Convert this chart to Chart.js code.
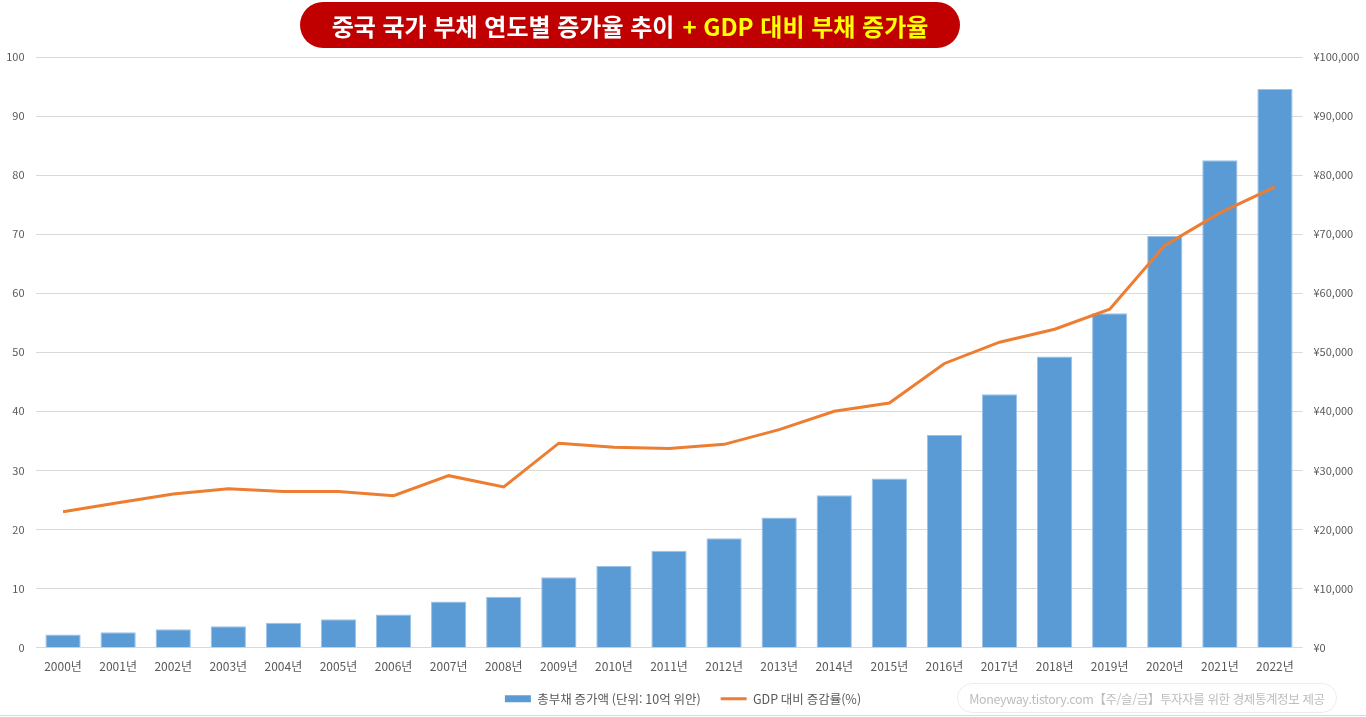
<!DOCTYPE html>
<html lang="ko">
<head>
<meta charset="utf-8">
<title>중국 국가 부채 연도별 증가율 추이</title>
<script src="https://cdn.jsdelivr.net/npm/chart.js@4.4.1/dist/chart.umd.min.js"></script>
<style>
  html, body { margin: 0; padding: 0; background: #fff; }
  #wrap { position: relative; width: 1366px; height: 717px; overflow: hidden; }
  #chart { position: absolute; left: 0; top: 0; }
  #title {
    position: absolute; left: 300px; top: 2px; width: 660px; height: 46px;
    background: #c00000; border-radius: 23px; color: #fff;
    font: bold 24px "Noto Sans CJK KR", sans-serif; letter-spacing: 0px;
    display: flex; align-items: center; justify-content: center;
  }
  #title span { color: #ffff00; margin-left: 8px; }
  #mark {
    position: absolute; left: 957px; top: 683px; width: 380px; height: 30px;
    border: 1px solid #ececec; border-radius: 15px; box-sizing: border-box;
    color: #bdbdbd; font: 12.5px "Noto Sans CJK KR", sans-serif;
    display: flex; align-items: center; justify-content: center; letter-spacing: -0.4px;
  }
  #rule { position: absolute; left: 0; right: 0; top: 715px; height: 1px; background: #d9d9d9; }
</style>
</head>
<body>
<div id="wrap">
  <canvas id="chart" width="1366" height="717"></canvas>
  <div id="title">중국 국가 부채 연도별 증가율 추이<span>+ GDP 대비 부채 증가율</span></div>
  <div id="mark">Moneyway.tistory.com【주/슬/금】투자자를 위한 경제통계정보 제공</div>
  <div id="rule"></div>
</div>
<script>
// --- dados ---
const anos = ['2000년', '2001년', '2002년', '2003년', '2004년', '2005년', '2006년', '2007년',
  '2008년', '2009년', '2010년', '2011년', '2012년', '2013년', '2014년', '2015년',
  '2016년', '2017년', '2018년', '2019년', '2020년', '2021년', '2022년'];

// 총부채 증가액 (단위: 10억 위안) - eixo direito
const totalDivida = [2200, 2600, 3100, 3600, 4200, 4800, 5600, 7800, 8600, 11900, 13800, 16400,
  18500, 22000, 25800, 28600, 36000, 42900, 49300, 56600, 69700, 82500, 94600];

// GDP 대비 증감률(%) - eixo esquerdo
const gdpRazao = [23.0, 24.5, 26.0, 26.9, 26.4, 26.4, 25.7, 29.1, 27.2, 34.6, 33.9, 33.7,
  34.4, 36.9, 40.0, 41.4, 48.1, 51.7, 53.9, 57.3, 68.1, 73.6, 78.0];

const rotuloBarra = '총부채 증가액 (단위: 10억 위안)';
const rotuloLinha = 'GDP 대비 증감률(%)';

const fonte = '"Noto Sans CJK KR", sans-serif';
const corTexto = '#595959';

const ctx = document.getElementById('chart').getContext('2d');

new Chart(ctx, {
  type: 'bar',
  data: {
    labels: anos,
    datasets: [
      {
        type: 'line',
        label: rotuloLinha,
        data: gdpRazao,
        yAxisID: 'y',
        borderColor: '#ed7d31',
        backgroundColor: '#ed7d31',
        borderWidth: 3,
        pointRadius: 0,
        tension: 0,
        order: 0
      },
      {
        type: 'bar',
        label: rotuloBarra,
        data: totalDivida,
        yAxisID: 'y1',
        backgroundColor: '#5b9bd5',
        borderColor: '#9cc3e6',
        borderWidth: { top: 1, left: 1, right: 1, bottom: 0 },
        barPercentage: 0.64,
        categoryPercentage: 1,
        order: 1
      }
    ]
  },
  options: {
    responsive: false,
    animation: false,
    layout: { padding: { top: 57, bottom: 2, left: 0, right: 0 } },
    plugins: {
      title: { display: false },
      tooltip: { enabled: false },
      legend: {
        position: 'bottom',
        reverse: true,
        labels: {
          font: { family: fonte, size: 12.5 },
          color: corTexto,
          usePointStyle: true,
          pointStyleWidth: 26,
          boxHeight: 7,
          padding: 20,
          generateLabels: (chart) => {
            const itens = Chart.defaults.plugins.legend.labels.generateLabels(chart);
            itens.forEach(it => {
              const ds = chart.data.datasets[it.datasetIndex];
              if (ds.type === 'bar') {
                it.pointStyle = 'rect';
                it.lineWidth = 0;
                it.fillStyle = '#5b9bd5';
              } else {
                it.pointStyle = 'line';
                it.lineWidth = 3;
                it.strokeStyle = '#ed7d31';
              }
            });
            return itens;
          }
        }
      }
    },
    scales: {
      x: {
        grid: { display: false },
        border: { display: false },
        ticks: { font: { family: fonte, size: 12 }, color: corTexto, padding: 4, maxRotation: 0 },
        afterFit: (s) => { s.height = 25; }
      },
      y: {
        position: 'left',
        min: 0,
        max: 100,
        ticks: { stepSize: 10, font: { family: fonte, size: 11 }, color: corTexto, padding: 11 },
        grid: { color: '#d9d9d9', drawTicks: false },
        border: { display: false },
        afterFit: (s) => { s.width = 35.5; }
      },
      y1: {
        position: 'right',
        min: 0,
        max: 100000,
        ticks: {
          stepSize: 10000,
          font: { family: fonte, size: 11 },
          color: corTexto,
          padding: 11,
          callback: (v) => '¥' + v.toLocaleString('en-US')
        },
        grid: { display: false, drawTicks: false },
        border: { display: false },
        afterFit: (s) => { s.width = 63.5; }
      }
    }
  }
});
</script>
</body>
</html>
